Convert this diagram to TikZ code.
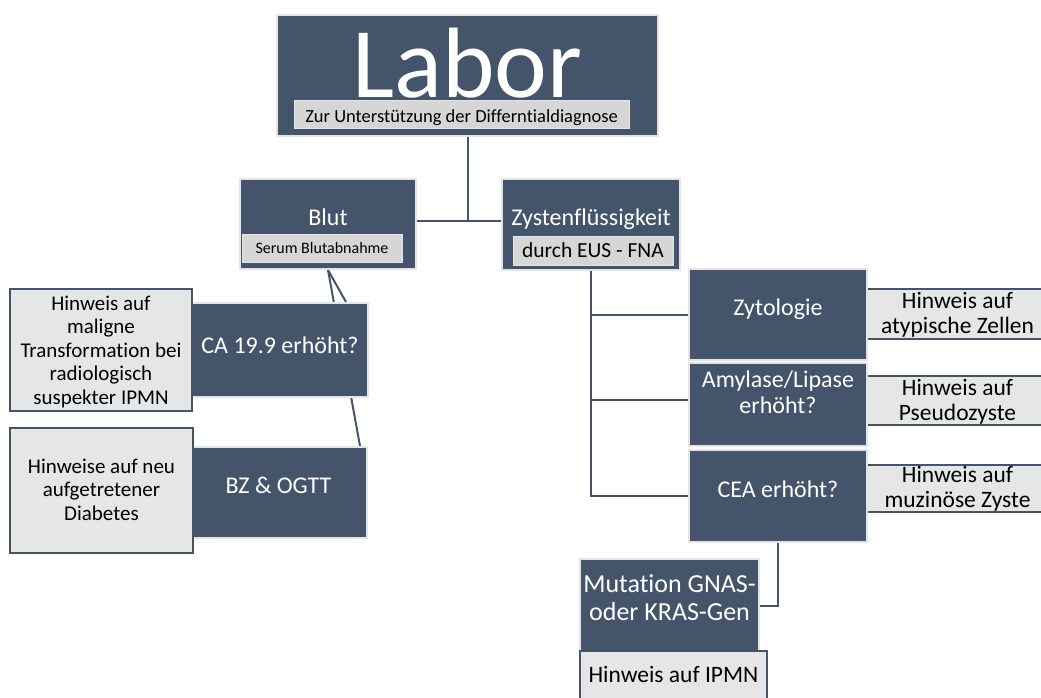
\documentclass[tikz,border=0pt]{standalone}
\usepackage{fontspec}
\setmainfont{Carlito}[Ligatures=NoCommon]
\usetikzlibrary{positioning,calc,backgrounds}
\definecolor{slate}{HTML}{44546A}
\definecolor{notegray}{HTML}{E7E6E6}
\definecolor{subgray}{HTML}{D6D6D6}
\definecolor{rimgray}{HTML}{E4E4E4}
\tikzset{
  darkbox/.style={fill=slate, draw=rimgray, line width=2pt, text=white,
    inner sep=0pt, anchor=base, align=center, font=\fontsize{24}{26}\selectfont},
  notebox/.style={fill=notegray, draw=slate, line width=2pt, inner sep=0pt,
    anchor=base, align=center, font=\fontsize{21}{23.5}\selectfont},
  sidebox/.style={notebox, font=\fontsize{23.5}{25}\selectfont},
  subbox/.style={fill=subgray, draw=rimgray, line width=1pt, inner sep=0pt,
    anchor=base, font=\fontsize{16}{18}\selectfont},
  link/.style={draw=slate, line width=2pt},
}

\begin{document}
\begin{tikzpicture}[x=1pt,y=-1pt]
  \useasboundingbox (0,0) rectangle (1041,697);

  % top
  \node[darkbox, minimum width=381pt, text height=82pt, text depth=39pt,
    font=\fontsize{100}{100}\selectfont] (labor) at (467.5,97) {Labor};
  \node[subbox, minimum width=335pt, text height=22pt, text depth=6pt,
    font=\fontsize{18.5}{20}\selectfont] (laborsub) at (461.5,122)
    {Zur Unterstützung der Differntialdiagnose};

  % blood side
  \node[darkbox, minimum width=176pt, text height=46pt, text depth=44pt] (blut) at (328,225) {Blut};
  \node[subbox, minimum width=160pt, text height=19pt, text depth=9pt] (blutsub) at (322,253) {Serum Blutabnahme};
  \node[darkbox, minimum width=176pt, text height=50pt, text depth=44pt] (ca) at (280,353) {CA 19.9 erhöht?};
  \node[darkbox, minimum width=177pt, text height=46pt, text depth=45pt] (bz) at (278.5,493) {BZ \& OGTT};
  \node[notebox, minimum width=182pt, text height=115pt, text depth=7pt] (canote) at (101,404)
    {Hinweis auf\\maligne\\Transformation bei\\radiologisch\\suspekter IPMN};
  \node[notebox, minimum width=183pt, text height=92pt, text depth=33pt] (bznote) at (101.5,520)
    {Hinweise auf neu\\aufgetretener\\Diabetes};

  % cyst side
  \node[darkbox, minimum width=178pt, text height=46pt, text depth=45pt] (zyst) at (591,225) {Zystenflüssigkeit};
  \node[subbox, minimum width=160pt, text height=21pt, text depth=8pt,
    font=\fontsize{21.5}{23}\selectfont] (zystsub) at (593,257) {durch EUS - FNA};
  \node[sidebox, minimum width=181pt, text height=44pt, text depth=6pt] (zytonote) at (957.5,333)
    {Hinweis auf\\atypische Zellen};
  \node[sidebox, minimum width=181pt, text height=44pt, text depth=5pt] (amylnote) at (957.5,420)
    {Hinweis auf\\Pseudozyste};
  \node[sidebox, minimum width=181pt, text height=42pt, text depth=5pt] (ceanote) at (957.5,507)
    {Hinweis auf\\muzinöse Zyste};
  \node[darkbox, minimum width=178pt, text height=46pt, text depth=45pt] (zyto) at (778,315) {Zytologie};
  \node[darkbox, minimum width=178pt, text height=50pt, text depth=33pt] (amyl) at (778,413)
    {Amylase/Lipase\\erhöht?};
  \node[darkbox, minimum width=178pt, text height=47pt, text depth=45pt] (cea) at (778,497) {CEA erhöht?};
  \node[darkbox, minimum width=179pt, text height=61pt, text depth=32pt,
    font=\fontsize{26}{28}\selectfont] (mut) at (669.5,620) {Mutation GNAS-\\oder KRAS-Gen};
  \node[sidebox, minimum width=187pt, text height=31pt, text depth=28pt] (mutnote) at (673.5,682)
    {Hinweis auf IPMN};

  % connectors
  \begin{scope}[on background layer]
    \coordinate (fork) at (labor.south |- 0,221);
    \draw[link] (labor.south) -- (fork);
    \draw[link] (blut.east |- fork) -- (zyst.west |- fork);
    \draw[link] (blut.south) -- ($(ca.north east)+(-23,0)$);
    \draw[link] (blut.south) -- ($(bz.north east)+(-8,0)$);
    \draw[link] (zyst.south) |- (zyto.west);
    \draw[link] (zyst.south) |- ([yshift=5pt]amyl.west);
    \draw[link] (zyst.south) |- (cea.west);
    \draw[link] (cea.south) |- (mut.east);
  \end{scope}
\end{tikzpicture}
\end{document}
